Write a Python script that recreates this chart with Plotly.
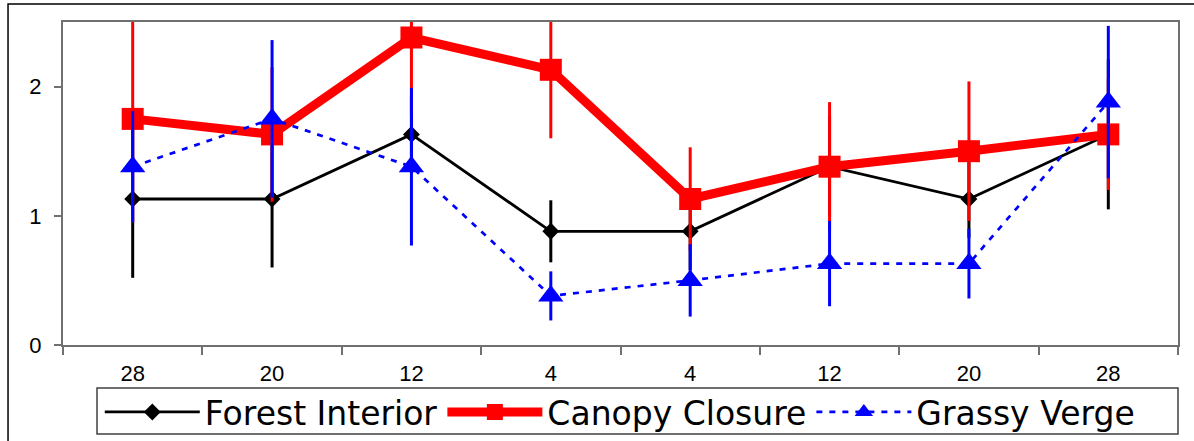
import plotly.graph_objects as go

# Distance classes along the transect (m), edge in the middle
distance_labels = ["28", "20", "12", "4", "4", "12", "20", "28"]
positions = list(range(len(distance_labels)))

forest_interior = [1.13, 1.13, 1.63, 0.88, 0.88, 1.38, 1.13, 1.63]
forest_interior_err = [0.61, 0.53, 0.30, 0.24, 0.30, 0.39, 0.30, 0.58]

canopy_closure = [1.75, 1.63, 2.38, 2.13, 1.13, 1.38, 1.50, 1.63]
canopy_closure_err = [0.80, 0.52, 0.60, 0.53, 0.40, 0.50, 0.54, 0.43]

grassy_verge = [1.38, 1.75, 1.38, 0.38, 0.50, 0.63, 0.63, 1.88]
grassy_verge_err = [0.43, 0.61, 0.61, 0.19, 0.28, 0.33, 0.27, 0.59]

y_ticks = [0, 1, 2]

fig = go.Figure()

fig.add_trace(go.Scatter(
    x=positions, y=forest_interior, name="Forest Interior",
    mode="lines+markers",
    line=dict(color="black", width=2.8),
    marker=dict(symbol="diamond", size=13, color="black"),
    error_y=dict(type="data", array=forest_interior_err, color="black",
                 thickness=3, width=0),
))

fig.add_trace(go.Scatter(
    x=positions, y=canopy_closure, name="Canopy Closure",
    mode="lines+markers",
    line=dict(color="#ff0000", width=9),
    marker=dict(symbol="square", size=22, color="#ff0000"),
    error_y=dict(type="data", array=canopy_closure_err, color="#ff0000",
                 thickness=3, width=0),
))

fig.add_trace(go.Scatter(
    x=positions, y=grassy_verge, name="Grassy Verge",
    mode="lines+markers",
    line=dict(color="#0000ff", width=2.7, dash="6px,7px"),
    marker=dict(symbol="triangle-up", size=22, color="#0000ff"),
    error_y=dict(type="data", array=grassy_verge_err, color="#0000ff",
                 thickness=3, width=0),
))

axis_grey = "#707070"

# plot area spans 63..1178 px horizontally and 22..345 px vertically
fig.update_layout(
    width=1194, height=441,
    margin=dict(l=63, r=16, t=22, b=96, autoexpand=False),
    paper_bgcolor="white", plot_bgcolor="white",
    font=dict(family="Liberation Sans, Arial, sans-serif", color="black", size=22),
    showlegend=True,
    legend=dict(
        orientation="h", x=0.033, y=-0.2074, xanchor="left", yanchor="middle",
        font=dict(size=33, family="DejaVu Sans, sans-serif"),
        borderwidth=0, itemwidth=95, tracegroupgap=0,
        bgcolor="rgba(0,0,0,0)",
    ),
    xaxis=dict(
        range=[-0.5, 7.5], tickmode="array", tickvals=positions,
        ticktext=distance_labels, ticks="", showgrid=False, zeroline=False,
        showline=True, linecolor=axis_grey, linewidth=2, mirror=True,
        ticklabelstandoff=8,
        minor=dict(tickmode="array",
                   tickvals=[p - 0.5 for p in positions] + [positions[-1] + 0.5],
                   ticks="outside", ticklen=8, tickwidth=1.5, tickcolor=axis_grey,
                   showgrid=False),
    ),
    yaxis=dict(
        range=[0, 2.5], tickmode="array", tickvals=y_ticks,
        ticks="outside", ticklen=7, tickwidth=1.5, tickcolor=axis_grey,
        showgrid=False, zeroline=False,
        showline=True, linecolor=axis_grey, linewidth=2, mirror=True,
        ticklabelstandoff=8,
    ),
    shapes=[
        # outer chart frame (top and left edges)
        dict(type="path", xref="paper", yref="paper",
             path="M -0.0493,-0.32 L -0.0493,1.0557 L 1.02,1.0557",
             line=dict(color="black", width=1.5)),
        # legend box
        dict(type="rect", xref="paper", yref="paper",
             x0=0.0305, x1=1.0, y0=-0.2755, y1=-0.1331,
             line=dict(color="#404040", width=1.5), fillcolor="white",
             layer="below"),
    ],
)

fig.write_html("out.html")
